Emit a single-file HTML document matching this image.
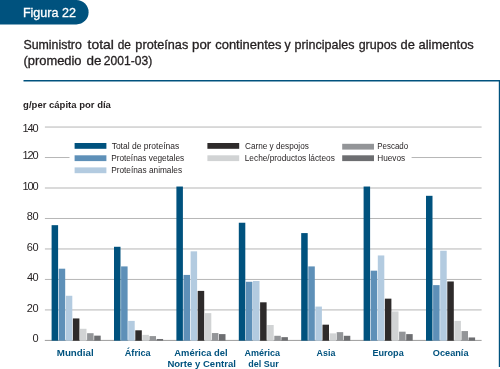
<!DOCTYPE html>
<html><head><meta charset="utf-8"><style>
html,body{margin:0;padding:0;background:#fff;}
body{width:500px;height:369px;overflow:hidden;}
svg{display:block;will-change:transform;font-family:"Liberation Sans",sans-serif;}
</style></head><body>
<svg width="500" height="369" viewBox="0 0 500 369">
<path d="M0 0 H76.4 A12.2 12.2 0 0 1 76.4 24.4 H0 Z" fill="#00527e"/>
<text x="22.90" y="16.70" font-size="12.6" fill="#fff" textLength="53.03" lengthAdjust="spacingAndGlyphs" stroke="#fff" stroke-width="0.3">Figura 22</text>
<text x="23.44" y="49.00" font-size="12.1" fill="#231f20" textLength="58.44" lengthAdjust="spacingAndGlyphs" stroke="#231f20" stroke-width="0.3">Suministro</text>
<text x="87.59" y="49.00" font-size="12.1" fill="#231f20" textLength="26.32" lengthAdjust="spacingAndGlyphs" stroke="#231f20" stroke-width="0.3">total</text>
<text x="117.72" y="49.00" font-size="12.1" fill="#231f20" textLength="13.24" lengthAdjust="spacingAndGlyphs" stroke="#231f20" stroke-width="0.3">de</text>
<text x="135.38" y="49.00" font-size="12.1" fill="#231f20" textLength="52.86" lengthAdjust="spacingAndGlyphs" stroke="#231f20" stroke-width="0.3">proteínas</text>
<text x="192.14" y="49.00" font-size="12.1" fill="#231f20" textLength="19.13" lengthAdjust="spacingAndGlyphs" stroke="#231f20" stroke-width="0.3">por</text>
<text x="215.28" y="49.00" font-size="12.1" fill="#231f20" textLength="66.17" lengthAdjust="spacingAndGlyphs" stroke="#231f20" stroke-width="0.3">continentes</text>
<text x="284.44" y="49.00" font-size="12.1" fill="#231f20" textLength="6.16" lengthAdjust="spacingAndGlyphs" stroke="#231f20" stroke-width="0.3">y</text>
<text x="294.59" y="49.00" font-size="12.1" fill="#231f20" textLength="59.86" lengthAdjust="spacingAndGlyphs" stroke="#231f20" stroke-width="0.3">principales</text>
<text x="358.70" y="49.00" font-size="12.1" fill="#231f20" textLength="38.11" lengthAdjust="spacingAndGlyphs" stroke="#231f20" stroke-width="0.3">grupos</text>
<text x="400.48" y="49.00" font-size="12.1" fill="#231f20" textLength="14.32" lengthAdjust="spacingAndGlyphs" stroke="#231f20" stroke-width="0.3">de</text>
<text x="418.48" y="49.00" font-size="12.1" fill="#231f20" textLength="55.37" lengthAdjust="spacingAndGlyphs" stroke="#231f20" stroke-width="0.3">alimentos</text>
<text x="23.43" y="64.90" font-size="12.1" fill="#231f20" textLength="58.12" lengthAdjust="spacingAndGlyphs" stroke="#231f20" stroke-width="0.3">(promedio</text>
<text x="86.46" y="64.90" font-size="12.1" fill="#231f20" textLength="14.98" lengthAdjust="spacingAndGlyphs" stroke="#231f20" stroke-width="0.3">de</text>
<text x="103.80" y="64.90" font-size="12.1" fill="#231f20" textLength="48.37" lengthAdjust="spacingAndGlyphs" stroke="#231f20" stroke-width="0.3">2001-03)</text>
<rect x="23.5" y="80" width="476.5" height="1.5" fill="#00527e"/>
<rect x="498.8" y="80" width="1.2" height="287" fill="#00527e"/>
<text x="23.12" y="107.70" font-size="9.2" font-weight="bold" fill="#231f20" textLength="87.78" lengthAdjust="spacingAndGlyphs">g/per cápita por día</text>
<rect x="44.9" y="309.42" width="436.70" height="1" fill="#b6b6b6"/>
<rect x="44.9" y="278.94" width="436.70" height="1" fill="#b6b6b6"/>
<rect x="44.9" y="248.46" width="436.70" height="1" fill="#b6b6b6"/>
<rect x="44.9" y="217.98" width="436.70" height="1" fill="#b6b6b6"/>
<rect x="44.9" y="187.50" width="436.70" height="1" fill="#b6b6b6"/>
<rect x="44.9" y="157.02" width="24.60" height="1" fill="#b6b6b6"/>
<rect x="411.6" y="157.02" width="70.00" height="1" fill="#b6b6b6"/>
<rect x="44.9" y="126.54" width="436.70" height="1" fill="#b6b6b6"/>
<text x="32.46" y="342.30" font-size="11" fill="#231f20" textLength="6.04" lengthAdjust="spacing">0</text>
<text x="26.75" y="311.52" font-size="11" fill="#231f20" textLength="11.76" lengthAdjust="spacing">20</text>
<text x="27.08" y="281.04" font-size="11" fill="#231f20" textLength="11.43" lengthAdjust="spacing">40</text>
<text x="26.75" y="250.56" font-size="11" fill="#231f20" textLength="11.76" lengthAdjust="spacing">60</text>
<text x="26.80" y="220.08" font-size="11" fill="#231f20" textLength="11.71" lengthAdjust="spacing">80</text>
<text x="22.48" y="189.60" font-size="11" fill="#231f20" textLength="16.05" lengthAdjust="spacing">100</text>
<text x="22.48" y="159.12" font-size="11" fill="#231f20" textLength="16.05" lengthAdjust="spacing">120</text>
<text x="22.48" y="131.54" font-size="11" fill="#231f20" textLength="16.05" lengthAdjust="spacing">140</text>
<rect x="44.8" y="339.9" width="436.80" height="1" fill="#9c9c9c"/>
<rect x="51.60" y="225.17" width="6.5" height="115.53" fill="#00527e"/>
<rect x="58.70" y="268.69" width="6.5" height="72.01" fill="#5e90b8"/>
<rect x="65.80" y="295.77" width="6.5" height="44.93" fill="#b3cbe0"/>
<rect x="72.90" y="318.44" width="6.5" height="22.26" fill="#2e2b2b"/>
<rect x="80.00" y="328.79" width="6.5" height="11.91" fill="#d1d3d4"/>
<rect x="87.10" y="333.20" width="6.5" height="7.50" fill="#939598"/>
<rect x="94.20" y="335.64" width="6.5" height="5.06" fill="#6d6e71"/>
<rect x="114.00" y="246.78" width="6.5" height="93.92" fill="#00527e"/>
<rect x="121.10" y="266.41" width="6.5" height="74.29" fill="#5e90b8"/>
<rect x="128.20" y="320.88" width="6.5" height="19.82" fill="#b3cbe0"/>
<rect x="135.30" y="330.31" width="6.5" height="10.39" fill="#2e2b2b"/>
<rect x="142.40" y="334.87" width="6.5" height="5.83" fill="#d1d3d4"/>
<rect x="149.50" y="336.09" width="6.5" height="4.61" fill="#939598"/>
<rect x="156.60" y="338.98" width="6.5" height="1.72" fill="#6d6e71"/>
<rect x="176.40" y="186.53" width="6.5" height="154.17" fill="#00527e"/>
<rect x="183.50" y="274.93" width="6.5" height="65.77" fill="#5e90b8"/>
<rect x="190.60" y="251.34" width="6.5" height="89.36" fill="#b3cbe0"/>
<rect x="197.70" y="290.90" width="6.5" height="49.80" fill="#2e2b2b"/>
<rect x="204.80" y="313.12" width="6.5" height="27.58" fill="#d1d3d4"/>
<rect x="211.90" y="333.05" width="6.5" height="7.65" fill="#939598"/>
<rect x="219.00" y="334.11" width="6.5" height="6.59" fill="#6d6e71"/>
<rect x="238.80" y="222.74" width="6.5" height="117.96" fill="#00527e"/>
<rect x="245.90" y="281.77" width="6.5" height="58.93" fill="#5e90b8"/>
<rect x="253.00" y="281.01" width="6.5" height="59.69" fill="#b3cbe0"/>
<rect x="260.10" y="302.31" width="6.5" height="38.39" fill="#2e2b2b"/>
<rect x="267.20" y="324.99" width="6.5" height="15.71" fill="#d1d3d4"/>
<rect x="274.30" y="335.79" width="6.5" height="4.91" fill="#939598"/>
<rect x="281.40" y="337.16" width="6.5" height="3.54" fill="#6d6e71"/>
<rect x="301.20" y="233.09" width="6.5" height="107.61" fill="#00527e"/>
<rect x="308.30" y="266.41" width="6.5" height="74.29" fill="#5e90b8"/>
<rect x="315.40" y="306.57" width="6.5" height="34.13" fill="#b3cbe0"/>
<rect x="322.50" y="324.68" width="6.5" height="16.02" fill="#2e2b2b"/>
<rect x="329.60" y="333.35" width="6.5" height="7.35" fill="#d1d3d4"/>
<rect x="336.70" y="332.14" width="6.5" height="8.56" fill="#939598"/>
<rect x="343.80" y="335.79" width="6.5" height="4.91" fill="#6d6e71"/>
<rect x="363.60" y="186.53" width="6.5" height="154.17" fill="#00527e"/>
<rect x="370.70" y="270.67" width="6.5" height="70.03" fill="#5e90b8"/>
<rect x="377.80" y="255.45" width="6.5" height="85.25" fill="#b3cbe0"/>
<rect x="384.90" y="298.66" width="6.5" height="42.04" fill="#2e2b2b"/>
<rect x="392.00" y="311.44" width="6.5" height="29.26" fill="#d1d3d4"/>
<rect x="399.10" y="331.68" width="6.5" height="9.02" fill="#939598"/>
<rect x="406.20" y="334.11" width="6.5" height="6.59" fill="#6d6e71"/>
<rect x="426.00" y="195.81" width="6.5" height="144.89" fill="#00527e"/>
<rect x="433.10" y="285.12" width="6.5" height="55.58" fill="#5e90b8"/>
<rect x="440.20" y="250.74" width="6.5" height="89.96" fill="#b3cbe0"/>
<rect x="447.30" y="281.47" width="6.5" height="59.23" fill="#2e2b2b"/>
<rect x="454.40" y="320.88" width="6.5" height="19.82" fill="#d1d3d4"/>
<rect x="461.50" y="331.07" width="6.5" height="9.63" fill="#939598"/>
<rect x="468.60" y="337.46" width="6.5" height="3.24" fill="#6d6e71"/>
<rect x="74.6" y="143.0" width="31.8" height="5.8" fill="#00527e"/>
<text x="111.63" y="148.80" font-size="9" fill="#231f20" textLength="67.67" lengthAdjust="spacingAndGlyphs">Total de proteínas</text>
<rect x="74.6" y="155.3" width="31.8" height="5.8" fill="#5e90b8"/>
<text x="111.14" y="160.90" font-size="9" fill="#231f20" textLength="73.04" lengthAdjust="spacingAndGlyphs">Proteínas vegetales</text>
<rect x="74.6" y="167.4" width="31.8" height="5.8" fill="#b3cbe0"/>
<text x="111.14" y="173.10" font-size="9" fill="#231f20" textLength="70.96" lengthAdjust="spacingAndGlyphs">Proteínas animales</text>
<rect x="207.4" y="143.0" width="31.8" height="5.8" fill="#2e2b2b"/>
<text x="244.99" y="148.80" font-size="9" fill="#231f20" textLength="63.82" lengthAdjust="spacingAndGlyphs">Carne y despojos</text>
<rect x="207.4" y="155.3" width="31.8" height="5.8" fill="#d1d3d4"/>
<text x="244.74" y="160.90" font-size="9" fill="#231f20" textLength="90.06" lengthAdjust="spacingAndGlyphs">Leche/productos lácteos</text>
<rect x="342.2" y="143.8" width="31.8" height="5.8" fill="#939598"/>
<text x="377.27" y="148.80" font-size="9" fill="#231f20" textLength="30.87" lengthAdjust="spacingAndGlyphs">Pescado</text>
<rect x="342.2" y="155.3" width="31.8" height="5.8" fill="#6d6e71"/>
<text x="377.24" y="160.90" font-size="9" fill="#231f20" textLength="27.95" lengthAdjust="spacingAndGlyphs">Huevos</text>
<text x="56.77" y="355.70" font-size="9.8" font-weight="bold" fill="#00527e" textLength="36.89" lengthAdjust="spacingAndGlyphs">Mundial</text>
<text x="124.77" y="355.70" font-size="9.8" font-weight="bold" fill="#00527e" textLength="25.93" lengthAdjust="spacingAndGlyphs">África</text>
<text x="174.27" y="355.70" font-size="9.8" font-weight="bold" fill="#00527e" textLength="53.29" lengthAdjust="spacingAndGlyphs">América del</text>
<text x="167.38" y="367.00" font-size="9.8" font-weight="bold" fill="#00527e" textLength="68.48" lengthAdjust="spacingAndGlyphs">Norte y Central</text>
<text x="244.57" y="355.70" font-size="9.8" font-weight="bold" fill="#00527e" textLength="35.55" lengthAdjust="spacingAndGlyphs">América</text>
<text x="248.34" y="367.00" font-size="9.8" font-weight="bold" fill="#00527e" textLength="30.39" lengthAdjust="spacingAndGlyphs">del Sur</text>
<text x="316.58" y="355.70" font-size="9.8" font-weight="bold" fill="#00527e" textLength="18.75" lengthAdjust="spacingAndGlyphs">Asia</text>
<text x="372.41" y="355.70" font-size="9.8" font-weight="bold" fill="#00527e" textLength="31.30" lengthAdjust="spacingAndGlyphs">Europa</text>
<text x="432.83" y="355.70" font-size="9.8" font-weight="bold" fill="#00527e" textLength="35.69" lengthAdjust="spacingAndGlyphs">Oceanía</text>
</svg>
</body></html>
